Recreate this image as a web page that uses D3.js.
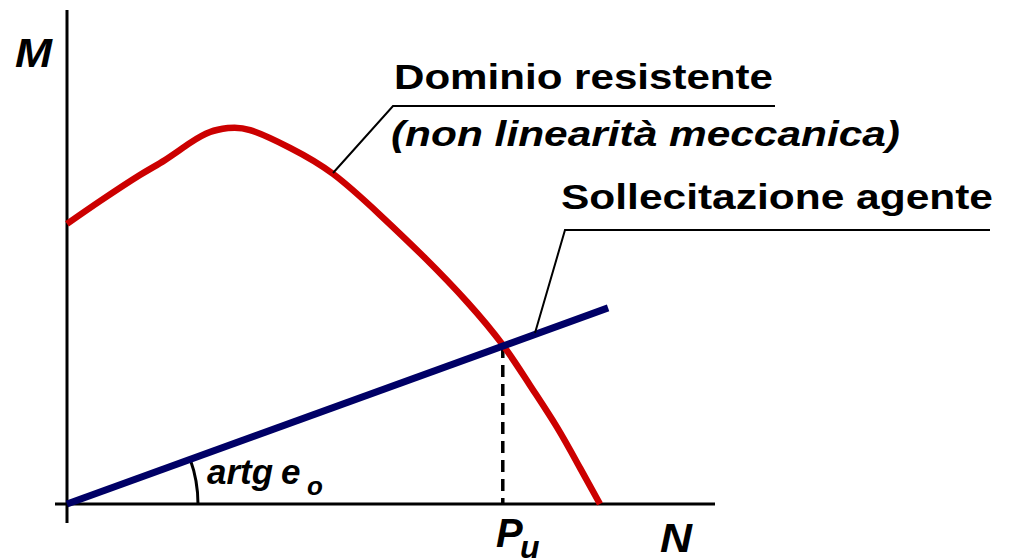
<!DOCTYPE html>
<html>
<head>
<meta charset="utf-8">
<script src="https://cdn.jsdelivr.net/npm/d3@7"></script>
<style>
  html, body { margin: 0; padding: 0; background: #fff; }
  svg { display: block; }
  text { font-family: "Liberation Sans", Arial, sans-serif; font-weight: bold; fill: #000; }
</style>
</head>
<body>
<svg id="chart" width="1013" height="560"></svg>
<script>
// ---- Data (N, M in arbitrary units) ----
const resistN = [0, 6.1, 13.5, 18.1, 22.8, 26.5, 29.8, 33.9, 41.3, 49.3, 58.0, 66.3, 74.1, 80.7, 85.7, 90.7, 95.0, 98.7];
const resistM = [56.7, 61.3, 66.6, 69.6, 73.1, 75.3, 76.1, 75.7, 72.1, 66.8, 58.5, 49.8, 40.9, 32.2, 24.1, 15.6, 7.3, 0];
const loadN = [0, 100.2];
const loadM = [0, 39.7];
const puN = 80.7;
const puM = 32.0;
const axisLabels = ["M", "N"];
const titleResist = "Dominio resistente";
const subtitleResist = "(non linearità meccanica)";
const titleLoad = "Sollecitazione agente";

// ---- Scales ----
const svg = d3.select("#chart");
const x = d3.scaleLinear().domain([0, 120]).range([67, 715]);
const y = d3.scaleLinear().domain([0, 100]).range([504, 10]);

// ---- Axes ----
svg.append("line").attr("x1", x(0)).attr("x2", x(0))
  .attr("y1", y(100)).attr("y2", y(0) + 19)
  .attr("stroke", "#000").attr("stroke-width", 3);
svg.append("line").attr("x1", x(0) - 12).attr("x2", x(120))
  .attr("y1", y(0)).attr("y2", y(0))
  .attr("stroke", "#000").attr("stroke-width", 3);

// ---- Angle arc ----
const angPix = Math.atan2(y(0) - y(loadM[1]), x(loadN[1]) - x(0));
const arc = d3.arc().innerRadius(131).outerRadius(131)
  .startAngle(Math.PI / 2 - angPix).endAngle(Math.PI / 2);
svg.append("path").attr("d", arc())
  .attr("transform", `translate(${x(0)},${y(0)})`)
  .attr("fill", "none").attr("stroke", "#000").attr("stroke-width", 3);

// ---- Dashed projection ----
svg.append("line").attr("x1", x(puN)).attr("x2", x(puN))
  .attr("y1", y(puM)).attr("y2", y(0))
  .attr("stroke", "#000").attr("stroke-width", 3.5)
  .attr("stroke-dasharray", "12,7");

// ---- Resistance curve ----
const resist = resistN.map((n, i) => [n, resistM[i]]);
svg.append("path").datum(resist)
  .attr("d", d3.line().x(d => x(d[0])).y(d => y(d[1])).curve(d3.curveNatural))
  .attr("fill", "none").attr("stroke", "#CC0000").attr("stroke-width", 6.5);

// ---- Load line ----
const load = loadN.map((n, i) => [n, loadM[i]]);
svg.append("path").datum(load)
  .attr("d", d3.line().x(d => x(d[0])).y(d => y(d[1])))
  .attr("fill", "none").attr("stroke", "#000066").attr("stroke-width", 7);

// ---- Leader lines ----
svg.append("polyline")
  .attr("points", [[333, 173], [393, 106], [775, 106]].map(p => p.join(",")).join(" "))
  .attr("fill", "none").attr("stroke", "#000").attr("stroke-width", 2);
svg.append("polyline")
  .attr("points", [[535, 333], [565, 230], [990, 230]].map(p => p.join(",")).join(" "))
  .attr("fill", "none").attr("stroke", "#000").attr("stroke-width", 2);

// ---- Texts ----
svg.append("text").attr("x", 394).attr("y", 89).attr("font-size", 35)
  .attr("textLength", 379).attr("lengthAdjust", "spacingAndGlyphs").text(titleResist);
svg.append("text").attr("x", 391).attr("y", 146).attr("font-size", 35).attr("font-style", "italic")
  .attr("textLength", 509).attr("lengthAdjust", "spacingAndGlyphs").text(subtitleResist);
svg.append("text").attr("x", 561).attr("y", 209).attr("font-size", 35)
  .attr("textLength", 432).attr("lengthAdjust", "spacingAndGlyphs").text(titleLoad);

svg.append("text").attr("x", 15).attr("y", 67).attr("font-size", 40).attr("font-style", "italic")
  .attr("textLength", 37).attr("lengthAdjust", "spacingAndGlyphs").text(axisLabels[0]);
svg.append("text").attr("x", 660).attr("y", 552).attr("font-size", 40).attr("font-style", "italic")
  .attr("textLength", 32).attr("lengthAdjust", "spacingAndGlyphs").text(axisLabels[1]);

// P_u
svg.append("text").attr("x", 496).attr("y", 547).attr("font-size", 40).attr("font-style", "italic").text("P");
svg.append("text").attr("x", 520).attr("y", 558).attr("font-size", 32).attr("font-style", "italic").text("u");

// artg e_o
svg.append("text").attr("x", 207).attr("y", 484).attr("font-size", 35).attr("font-style", "italic")
  .attr("textLength", 66).attr("lengthAdjust", "spacingAndGlyphs").text("artg");
svg.append("text").attr("x", 281).attr("y", 484).attr("font-size", 35).attr("font-style", "italic").text("e");
svg.append("text").attr("x", 307).attr("y", 495).attr("font-size", 26).attr("font-style", "italic").text("o");
</script>
</body>
</html>
